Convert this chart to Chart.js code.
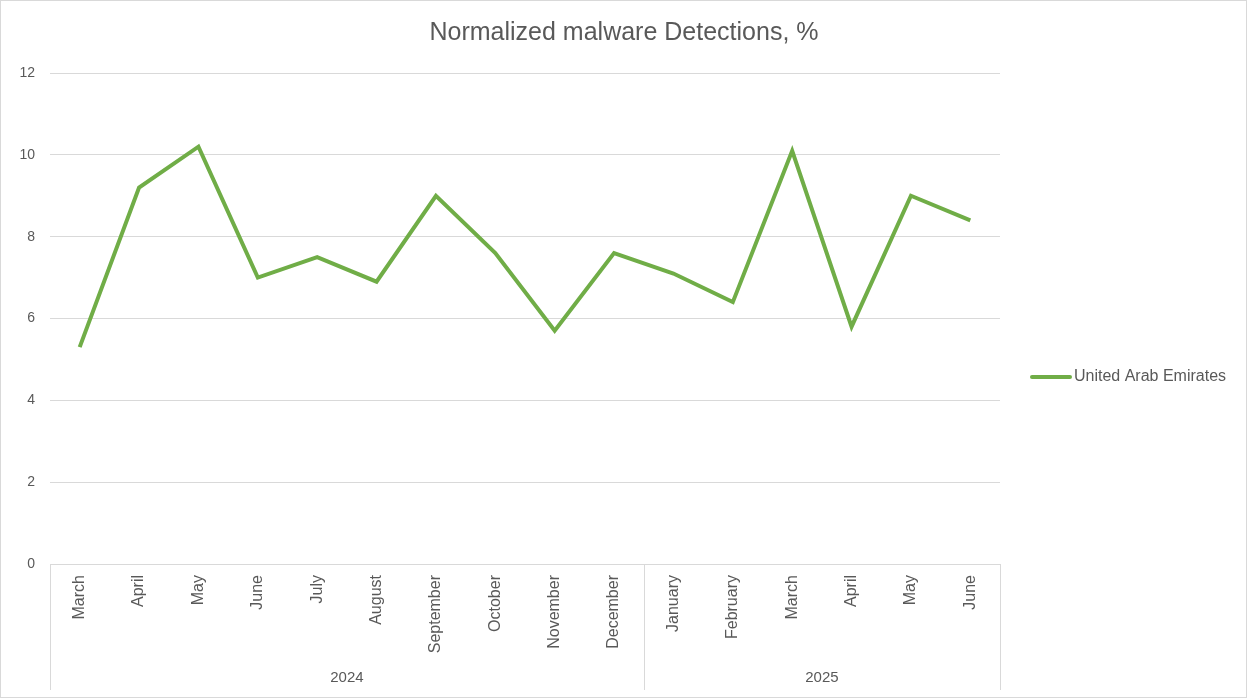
<!doctype html>
<html lang="en">
<head>
<meta charset="utf-8">
<script src="https://cdn.jsdelivr.net/npm/chart.js"></script>
<style>
	body { margin: 0; background: #fff; }
	.chart-box { width: 1248px; height: 700px; position: relative; }
</style>
</head>
<body>
<div class="chart-box">
	<canvas id="malware-chart"></canvas>
</div>
<script>
	// 데이터
	var months = ['March', 'April', 'May', 'June', 'July', 'August', 'September', 'October',
		'November', 'December', 'January', 'February', 'March', 'April', 'May', 'June'];
	var years = ['2024', '2025'];
	var yearSpans = [10, 6];   // months per year
	var uaeValues = [5.3, 9.2, 10.2, 7.0, 7.5, 6.9, 9.0, 7.6, 5.7, 7.6, 7.1, 6.4, 10.1, 5.8, 9.0, 8.4];
	var yMin = 0, yMax = 12, yStep = 2;
	var chartTitle = 'Normalized malware Detections, %';

	var FONT = 'Liberation Sans';
	var TEXT = '#595959';
	var GRID = '#d9d9d9';
	var AXIS_H = 126;

	/*-------- title, year row, legend, outer border --------*/
	var extras = {
		id: 'extras',
		afterDraw: function(chart) {
			var ctx = chart.ctx;
			var x = chart.scales.x;
			var half = (x.getPixelForValue(1) - x.getPixelForValue(0)) / 2;
			var top = x.top, bottom = x.top + AXIS_H;
			ctx.save();

			// title, centred on the whole chart
			ctx.fillStyle = TEXT;
			ctx.font = '25px "' + FONT + '"';
			ctx.textAlign = 'center';
			ctx.textBaseline = 'middle';
			ctx.fillText(chartTitle, chart.width / 2, 33);

			// year row
			ctx.strokeStyle = GRID;
			ctx.lineWidth = 1;
			ctx.font = '15px "' + FONT + '"';
			var start = 0;
			for (var i = 0; i < years.length; i++) {
				var end = start + yearSpans[i];
				var l = x.getPixelForValue(start) - half;
				var r = x.getPixelForValue(end - 1) + half;
				ctx.beginPath();
				ctx.moveTo(Math.round(l) + 0.5, top);
				ctx.lineTo(Math.round(l) + 0.5, bottom);
				if (i === years.length - 1) {
					ctx.moveTo(Math.round(r) + 0.5, top);
					ctx.lineTo(Math.round(r) + 0.5, bottom);
				}
				ctx.stroke();
				ctx.fillText(years[i], (l + r) / 2, top + 114);
				start = end;
			}

			// legend (right side)
			var ds = chart.data.datasets[0];
			var lx = chart.chartArea.right + 30;
			var ly = Math.round((chart.chartArea.top + bottom) / 2) - 5;
			ctx.strokeStyle = ds.borderColor;
			ctx.lineWidth = ds.borderWidth;
			ctx.lineCap = 'round';
			ctx.beginPath();
			ctx.moveTo(lx + 2, ly);
			ctx.lineTo(lx + 40, ly);
			ctx.stroke();
			ctx.fillStyle = TEXT;
			ctx.font = '16px "' + FONT + '"';
			ctx.textAlign = 'left';
			ctx.fillText(ds.label, lx + 44, ly);

			// chart border
			ctx.strokeStyle = GRID;
			ctx.lineWidth = 1;
			ctx.strokeRect(0.5, 0.5, chart.width - 2, chart.height - 3);
			ctx.restore();
		}
	};

	var ctx = document.getElementById('malware-chart').getContext('2d');
	var malwareChart = new Chart(ctx, {
		type: 'line',
		data: {
			labels: months,
			datasets: [{
				label: 'United Arab Emirates',
				data: uaeValues,
				borderColor: '#70ad47',
				backgroundColor: '#70ad47',
				borderWidth: 4,
				pointRadius: 0,
				tension: 0,
				fill: false
			}]
		},
		options: {
			responsive: true,
			maintainAspectRatio: false,
			animation: false,
			layout: { padding: { top: 73, left: 0, right: 248, bottom: 10 } },
			plugins: {
				title: { display: false },
				legend: { display: false },
				tooltip: { enabled: false }
			},
			scales: {
				x: {
					offset: true,
					grid: { display: false, offset: true },
					border: { display: false },
					ticks: {
						color: TEXT,
						font: { family: FONT, size: 16 },
						minRotation: 90,
						maxRotation: 90,
						autoSkip: false,
						padding: 3
					},
					afterFit: function(scale) { scale.height = AXIS_H; }
				},
				y: {
					min: yMin,
					max: yMax,
					ticks: {
						stepSize: yStep,
						color: TEXT,
						font: { family: FONT, size: 14 },
						padding: 15
					},
					grid: { color: GRID, drawTicks: false },
					border: { display: false },
					afterFit: function(scale) { scale.width = 50; }
				}
			}
		},
		plugins: [extras]
	});
</script>
</body>
</html>
